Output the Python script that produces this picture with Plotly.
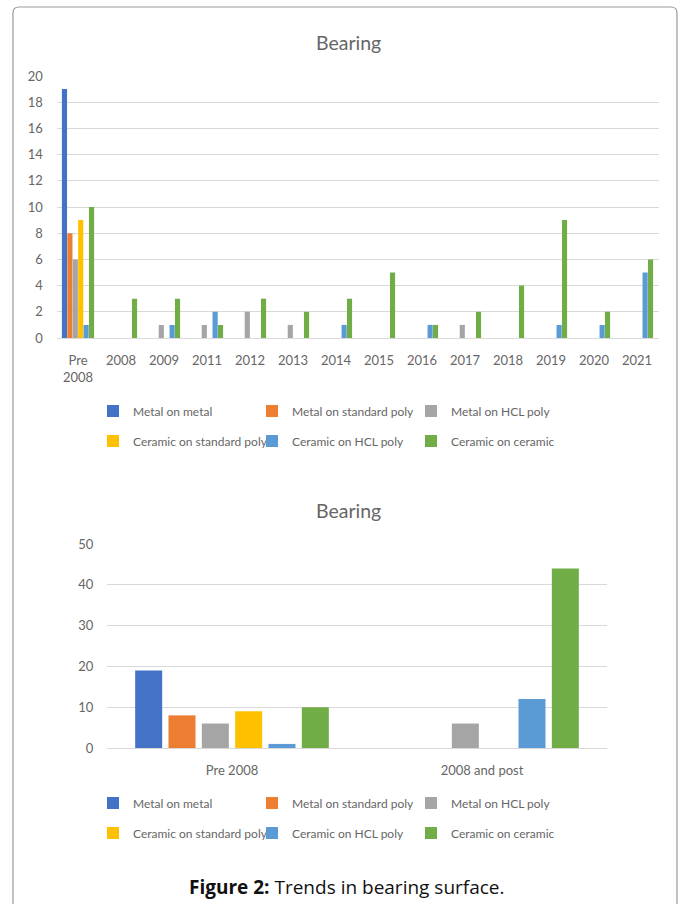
import plotly.graph_objects as go

# ---- data ----
series_names = [
    "Metal on metal",
    "Metal on standard poly",
    "Metal on HCL poly",
    "Ceramic on standard poly",
    "Ceramic on HCL poly",
    "Ceramic on ceramic",
]
series_colors = ["#4472C4", "#ED7D31", "#A5A5A5", "#FFC000", "#5B9BD5", "#70AD47"]

years = ["Pre<br>2008", "2008", "2009", "2011", "2012", "2013", "2014",
         "2015", "2016", "2017", "2018", "2019", "2020", "2021"]
metal_on_metal_by_year = [19, 0, 0, 0, 0, 0, 0, 0, 0, 0, 0, 0, 0, 0]
metal_on_std_poly_by_year = [8, 0, 0, 0, 0, 0, 0, 0, 0, 0, 0, 0, 0, 0]
metal_on_hcl_poly_by_year = [6, 0, 1, 1, 2, 1, 0, 0, 0, 1, 0, 0, 0, 0]
ceramic_on_std_poly_by_year = [9, 0, 0, 0, 0, 0, 0, 0, 0, 0, 0, 0, 0, 0]
ceramic_on_hcl_poly_by_year = [1, 0, 1, 2, 0, 0, 1, 0, 1, 0, 0, 1, 1, 5]
ceramic_on_ceramic_by_year = [10, 3, 3, 1, 3, 2, 3, 5, 1, 2, 4, 9, 2, 6]

periods = ["Pre 2008", "2008 and post"]
metal_on_metal_by_period = [19, 0]
metal_on_std_poly_by_period = [8, 0]
metal_on_hcl_poly_by_period = [6, 6]
ceramic_on_std_poly_by_period = [9, 0]
ceramic_on_hcl_poly_by_period = [1, 12]
ceramic_on_ceramic_by_period = [10, 44]

yearly = [metal_on_metal_by_year, metal_on_std_poly_by_year, metal_on_hcl_poly_by_year,
          ceramic_on_std_poly_by_year, ceramic_on_hcl_poly_by_year, ceramic_on_ceramic_by_year]
by_period = [metal_on_metal_by_period, metal_on_std_poly_by_period, metal_on_hcl_poly_by_period,
             ceramic_on_std_poly_by_period, ceramic_on_hcl_poly_by_period, ceramic_on_ceramic_by_period]

# ---- page geometry (pixels) ----
W, H = 680, 904


def px_x(x):
    return x / W


def px_y(y):
    return 1 - y / H


TEXT = "#666666"
GRID = "#D9D9D9"
FONT = "Lato, Open Sans, sans-serif"

fig = go.Figure()

for i, (name, color) in enumerate(zip(series_names, series_colors)):
    fig.add_trace(go.Bar(
        x=years, y=yearly[i], name=name, marker_color=color,
        xaxis="x", yaxis="y", offsetgroup=str(i),
        legend="legend" if i < 3 else "legend2",
        marker_line_width=0,
    ))
for i, (name, color) in enumerate(zip(series_names, series_colors)):
    fig.add_trace(go.Bar(
        x=periods, y=by_period[i], name=name, marker_color=color,
        xaxis="x2", yaxis="y2", offsetgroup=str(i),
        legend="legend3" if i < 3 else "legend4",
        marker_line_width=0,
    ))

axis_common = dict(
    showline=False, tickfont=dict(family=FONT, size=13, color=TEXT),
    automargin=False, fixedrange=True,
)

legend_common = dict(
    orientation="h", xanchor="left", yanchor="middle",
    font=dict(family=FONT, size=12, color=TEXT),
    entrywidth=114, itemclick=False, bgcolor="rgba(0,0,0,0)",
    borderwidth=0, itemwidth=30, traceorder="normal",
)

legend_x = px_x(93)

fig.update_layout(
    width=W, height=H,
    margin=dict(l=0, r=0, t=0, b=0),
    paper_bgcolor="white", plot_bgcolor="white",
    barmode="group",
    bargap=0.245, bargroupgap=0.05,
    showlegend=True,
    xaxis=dict(domain=[px_x(56.5), px_x(658.5)], anchor="y", showgrid=False,
               ticks="outside", ticklen=10, tickcolor="rgba(0,0,0,0)", **axis_common),
    yaxis=dict(domain=[px_y(338), px_y(76)], anchor="x", range=[0, 20], dtick=2,
               showgrid=True, gridcolor=GRID, gridwidth=1, zeroline=True,
               zerolinecolor=GRID, zerolinewidth=1,
               ticks="outside", ticklen=10, tickcolor="rgba(0,0,0,0)", **axis_common),
    xaxis2=dict(domain=[px_x(107), px_x(607)], anchor="y2", showgrid=False,
                ticks="outside", ticklen=10, tickcolor="rgba(0,0,0,0)", **axis_common),
    yaxis2=dict(domain=[px_y(748), px_y(544)], anchor="x2", range=[0, 50], dtick=10,
                showgrid=True, gridcolor=GRID, gridwidth=1, zeroline=True,
                zerolinecolor=GRID, zerolinewidth=1,
                ticks="outside", ticklen=10, tickcolor="rgba(0,0,0,0)", **axis_common),
    legend=dict(x=legend_x, y=px_y(411), **legend_common),
    legend2=dict(x=legend_x, y=px_y(441), **legend_common),
    legend3=dict(x=legend_x, y=px_y(803), **legend_common),
    legend4=dict(x=legend_x, y=px_y(833), **legend_common),
)

# The second chart uses wider bars with visible gaps between them
slot = (1 - 0.2) / 6
for k, tr in enumerate(fig.data[6:]):
    tr.width = slot * (1 - 0.19)
    tr.offset = -0.4 + k * slot + slot * 0.095

# chart titles and caption
for ytitle in (42, 510):
    fig.add_annotation(text="Bearing", x=px_x(348), y=px_y(ytitle), xref="paper", yref="paper",
                       showarrow=False, xanchor="center", yanchor="middle",
                       font=dict(family=FONT, size=19.5, color=TEXT))

fig.add_annotation(text="<b>Figure 2:</b> Trends in bearing surface.",
                   x=px_x(347), y=px_y(887), xref="paper", yref="paper",
                   showarrow=False, xanchor="center", yanchor="middle",
                   font=dict(family="Open Sans, sans-serif", size=19, color="#111111"))

# rounded frame around both charts (open at the bottom)
xl, xr, yt, yb = px_x(13), px_x(677), px_y(7), px_y(910)
rx, ry = 6 / W, 6 / H
frame = (f"M {xl},{yb} L {xl},{yt - ry} Q {xl},{yt} {xl + rx},{yt} "
         f"L {xr - rx},{yt} Q {xr},{yt} {xr},{yt - ry} L {xr},{yb}")
fig.add_shape(type="path", path=frame, xref="paper", yref="paper",
              line=dict(color="#999999", width=1.2), layer="above")

fig.write_html("out.html")
